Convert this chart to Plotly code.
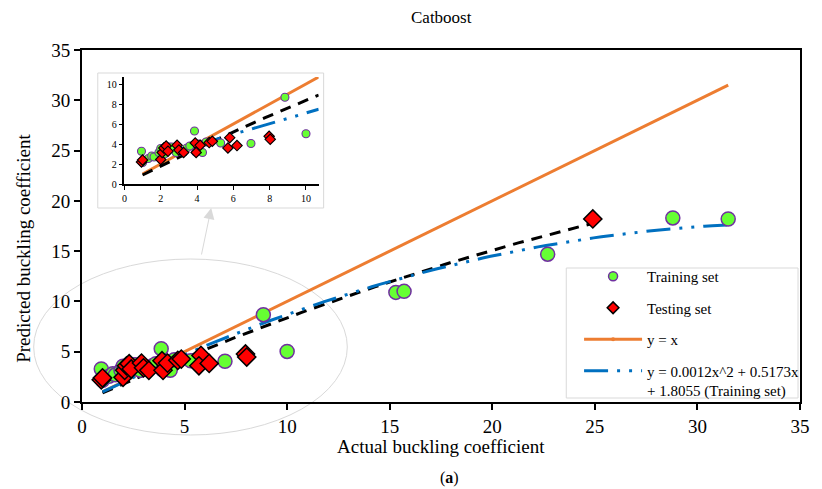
import numpy as np
import plotly.graph_objects as go

# ---- data -------------------------------------------------------------
train_x = [0.94, 1.0, 1.32, 1.5, 1.63, 1.9, 2.0, 2.2, 2.45, 2.6, 2.85, 3.17, 3.44,
           3.6, 3.86, 3.93, 4.1, 4.3, 4.5, 5.3, 6.97, 8.84, 10.0,
           15.3, 15.7, 22.7, 28.8, 31.5]
train_y = [3.28, 2.15, 2.55, 2.8, 2.7, 3.15, 3.55, 3.0, 3.7, 3.7, 3.15, 3.28, 3.6,
           3.8, 5.3, 3.2, 4.0, 3.15, 4.2, 4.1, 4.05, 8.68, 5.03,
           10.9, 11.0, 14.7, 18.3, 18.2]

test_x = [0.94, 1.0, 2.0, 2.08, 2.17, 2.3, 2.4, 2.9, 3.0, 3.26, 3.9, 3.95, 4.17,
          4.67, 4.84, 5.8, 5.7, 6.2, 7.97, 8.03, 24.9]
test_y = [2.2, 2.4, 2.45, 3.15, 3.6, 3.8, 3.28, 3.87, 3.4, 3.15, 4.1, 3.15, 3.87,
          4.14, 4.27, 4.63, 3.6, 3.84, 4.77, 4.47, 18.2]

# quadratic trend coefficients [a, b, c] for y = a*x^2 + b*x + c
train_fit_eq = [0.0012, 0.5173, 1.8055]      # equation shown in the legend
train_fit_main = [-0.0145, 1.016, 0.0]       # training trend on the full-range axes
test_fit = [-0.0084, 0.923, -0.015]          # testing trend (dashed black)

main_x_range = [0, 35]
main_y_range = [0, 35]
main_ticks = [0, 5, 10, 15, 20, 25, 30, 35]
inset_range = [0, 10.7]
inset_ticks = [0, 2, 4, 6, 8, 10]

# ---- styles -----------------------------------------------------------
FONT = "Liberation Serif"
GREEN = "#66FF33"
PURPLE = "#7030A0"
RED = "#FF0000"
ORANGE = "#ED7D31"
BLUE = "#0070C0"
LIGHT = "#D9D9D9"
DASH_DOT_DOT = "24px,9px,3px,9px,3px,9px"


def quad(c, x):
    x = np.asarray(x)
    return c[0] * x ** 2 + c[1] * x + c[2]


fig = go.Figure()


def add_set(xa, ya, msize, lw):
    fig.add_trace(go.Scatter(
        x=train_x, y=train_y, mode="markers", showlegend=False,
        marker=dict(symbol="circle", size=msize, color=GREEN,
                    line=dict(color=PURPLE, width=lw)),
        xaxis=xa, yaxis=ya, cliponaxis=True))
    fig.add_trace(go.Scatter(
        x=test_x, y=test_y, mode="markers", showlegend=False,
        marker=dict(symbol="diamond", size=msize, color=RED,
                    line=dict(color="black", width=lw)),
        xaxis=xa, yaxis=ya, cliponaxis=True))


def add_lines(xa, ya, x_end_id, x_end_test, x_end_train, blue_coef):
    xs = np.linspace(1, x_end_id, 2)
    fig.add_trace(go.Scatter(x=xs, y=xs, mode="lines", showlegend=False,
                             line=dict(color=ORANGE, width=3),
                             xaxis=xa, yaxis=ya))
    xt = np.linspace(1, x_end_test, 80)
    fig.add_trace(go.Scatter(x=xt, y=quad(test_fit, xt), mode="lines",
                             showlegend=False,
                             line=dict(color="black", width=3, dash="11px,8px"),
                             xaxis=xa, yaxis=ya))
    xb = np.linspace(1, x_end_train, 80)
    fig.add_trace(go.Scatter(x=xb, y=quad(blue_coef, xb), mode="lines",
                             showlegend=False,
                             line=dict(color=BLUE, width=3, dash=DASH_DOT_DOT),
                             xaxis=xa, yaxis=ya))


# main axes
add_lines("x", "y", max(train_x), max(test_x), max(train_x), train_fit_main)
add_set("x", "y", 14, 1.5)

# inset axes
add_lines("x2", "y2", inset_range[1], inset_range[1], inset_range[1], train_fit_eq)
add_set("x2", "y2", 8, 1.1)

# legend entries
legend_font = dict(family=FONT, size=15, color="black")
fig.add_trace(go.Scatter(x=[None], y=[None], mode="markers", name="Training set",
                         legendgroup="a",
                         marker=dict(symbol="circle", size=9, color=GREEN,
                                     line=dict(color=PURPLE, width=1.5))))
fig.add_trace(go.Scatter(x=[None], y=[None], mode="markers", name="Testing set",
                         legendgroup="b",
                         marker=dict(symbol="diamond", size=9, color=RED,
                                     line=dict(color="black", width=1.5))))
fig.add_trace(go.Scatter(x=[None], y=[None], mode="lines+markers", name="y = x",
                         legendgroup="c",
                         line=dict(color=ORANGE, width=3),
                         marker=dict(size=4, color=ORANGE)))
fig.add_trace(go.Scatter(x=[None], y=[None], mode="lines",
                         name="y = 0.0012x^2 + 0.5173x<br>+ 1.8055 (Training set)",
                         legendgroup="d",
                         line=dict(color=BLUE, width=3, dash=DASH_DOT_DOT)))

L, R, T, B = 82, 12, 50, 87
W, H = 822, 489
pw, ph = W - L - R, H - T - B


def px(xp):
    return (xp - L) / pw


def py(yp):
    return (H - B - yp) / ph


axis_common = dict(showgrid=False, zeroline=False, showline=True,
                   linecolor="black", ticks="outside", tickcolor="black")

fig.update_layout(
    width=W, height=H,
    margin=dict(l=L, r=R, t=T, b=B),
    paper_bgcolor="white", plot_bgcolor="white",
    font=dict(family=FONT, color="black"),
    xaxis=dict(range=main_x_range, tickvals=main_ticks, linewidth=2, ticklen=6,
               tickwidth=1.5, mirror=True, tickfont=dict(size=19), **axis_common),
    yaxis=dict(range=main_y_range, tickvals=main_ticks, linewidth=2, ticklen=6,
               tickwidth=1.5, mirror=True, tickfont=dict(size=19), **axis_common),
    xaxis2=dict(domain=[px(125), px(322)], anchor="y2", range=inset_range,
                tickvals=inset_ticks, linewidth=1.5, ticklen=4, tickwidth=1,
                tickfont=dict(size=10), **axis_common),
    yaxis2=dict(domain=[py(184), py(77)], anchor="x2", range=inset_range,
                tickvals=inset_ticks, linewidth=1.5, ticklen=4, tickwidth=1,
                tickfont=dict(size=10), **axis_common),
    legend=dict(x=px(586), y=py(260), xanchor="left", yanchor="top",
                bgcolor="rgba(0,0,0,0)", borderwidth=0,
                font=legend_font, itemwidth=58, tracegroupgap=9,
                valign="top"),
    shapes=[
        dict(type="circle", xref="paper", yref="paper",
             x0=px(33), x1=px(351), y0=py(435), y1=py(259),
             line=dict(color=LIGHT, width=1), layer="below"),
        dict(type="rect", xref="paper", yref="paper",
             x0=px(98), x1=px(327), y0=py(208), y1=py(73),
             line=dict(color=LIGHT, width=1), fillcolor="white", layer="below"),
        # legend frame
        dict(type="rect", xref="paper", yref="paper",
             x0=px(573), x1=px(808), y0=py(398), y1=py(268),
             line=dict(color=LIGHT, width=1), fillcolor="white", layer="below"),
    ],
    annotations=[
        dict(text="Catboost", xref="paper", yref="paper", x=0.5, y=py(17),
             showarrow=False, font=dict(size=17), yanchor="middle"),
        dict(text="Actual buckling coefficient", xref="paper", yref="paper",
             x=0.5, y=py(446), showarrow=False, font=dict(size=19),
             yanchor="middle"),
        dict(text="Predicted buckling coefficient", xref="paper", yref="paper",
             x=px(22), y=py(248), showarrow=False, font=dict(size=19),
             textangle=-90, xanchor="center", yanchor="middle"),
        dict(text="(<b>a</b>)", xref="paper", yref="paper", x=px(455),
             y=py(478), showarrow=False, font=dict(size=16), yanchor="middle"),
        dict(text="", xref="paper", yref="paper", x=px(213), y=py(208),
             showarrow=True, ax=-10, ay=48, arrowhead=2, arrowsize=2.2,
             arrowwidth=1, arrowcolor=LIGHT),
    ],
)

fig.write_html("out.html")
